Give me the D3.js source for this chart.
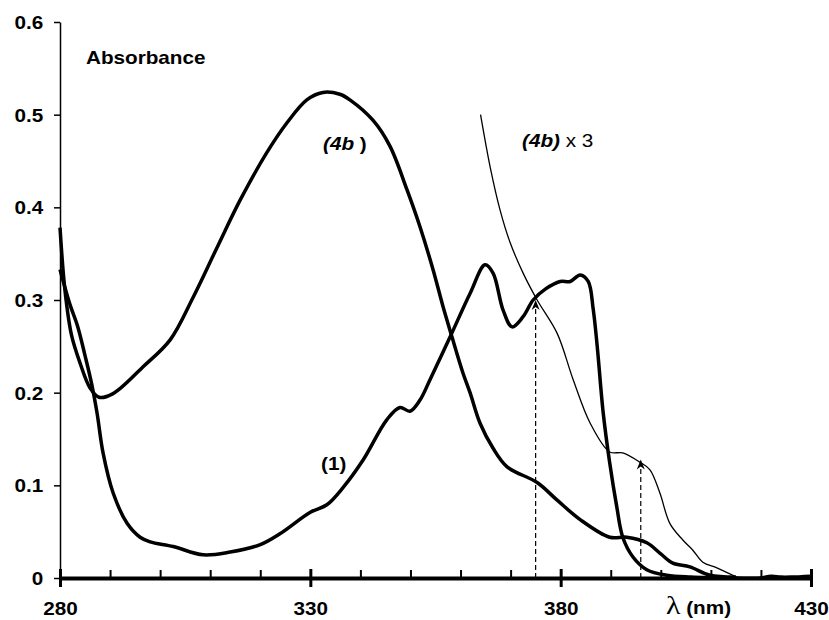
<!DOCTYPE html>
<html>
<head>
<meta charset="utf-8">
<script src="https://cdn.jsdelivr.net/npm/d3@7"></script>
<style>
  body { margin: 0; background: #fff; }
  svg text { font-family: "Liberation Sans", Arial, sans-serif; fill: #000; }
</style>
</head>
<body>
<div id="chart"></div>
<script>
// spectrum of (1)
var wl1 = [280, 282, 283.5, 285, 286.3, 287.4, 288.6, 290.6, 293.4, 296, 298, 302.6, 308.6, 314, 320, 324, 330, 333.3,
           336.6, 340.5, 345.3, 347.9, 349.9, 351.9, 353.9, 357.9, 361.9, 364.9, 366.5, 368.5, 370.3, 372.5, 374.5,
           377, 379.9, 381.9, 383.9, 385.5, 386.5, 387.3, 388.5, 389.8, 391.2, 392.4, 394.4, 397.2, 401.2, 406,
           415, 420, 422, 424, 426, 430];
var abs1 = [0.333, 0.295, 0.272, 0.24, 0.21, 0.178, 0.135, 0.092, 0.059, 0.044, 0.039, 0.034, 0.025, 0.028, 0.036, 0.048, 0.071, 0.079,
            0.098, 0.127, 0.171, 0.184, 0.180, 0.192, 0.214, 0.26, 0.307, 0.338, 0.329, 0.289, 0.271, 0.282, 0.30,
            0.312, 0.32, 0.32, 0.327, 0.32, 0.29, 0.25, 0.178, 0.124, 0.077, 0.044, 0.023, 0.009, 0.003, 0.001,
            0, 0, 0.002, 0.001, 0.001, 0.002];

// spectrum of (4b)
var wl4b = [280, 281, 282.3, 284, 286, 287.8, 290.6, 296.6, 302, 306.6, 311.4, 316, 321.3, 325.3, 329.3, 332.5, 335.9,
            337.9, 342.5, 345.9, 349.3, 351.9, 354.5, 356.5, 358.3, 360.5, 361.9, 363.9, 366.5, 369.3, 375.3, 379.3,
            383.9, 389.8, 393.2, 397.2, 400, 402.4, 405.8, 409.8, 415];
var abs4b = [0.378, 0.31, 0.262, 0.232, 0.205, 0.195, 0.199, 0.228, 0.257, 0.303, 0.357, 0.408, 0.459, 0.491, 0.516, 0.524, 0.522,
             0.516, 0.494, 0.466, 0.419, 0.379, 0.333, 0.293, 0.26, 0.221, 0.2, 0.167, 0.14, 0.12, 0.103, 0.084,
             0.063, 0.044, 0.044, 0.038, 0.026, 0.016, 0.012, 0.003, 0.001];

// (4b) x 3, thin line
var wl4bx3 = [364, 365.9, 367.9, 369.9, 372.5, 375.3, 379.3, 382.5, 385.9, 389.8, 392.4, 395.8, 397.8, 399.8, 401.8,
              404.4, 406.4, 408.4, 411.2, 414.4, 415.5];
var abs4bx3 = [0.5, 0.444, 0.397, 0.362, 0.329, 0.30, 0.264, 0.214, 0.167, 0.136, 0.135, 0.125, 0.117, 0.092, 0.059,
               0.041, 0.03, 0.017, 0.011, 0.003, 0];

// dashed markers
var markNm = [375, 396];
var markAbs = [0.30, 0.128];

var xMajor = [280, 330, 380, 430];
var xMinor = [290, 300, 310, 320, 340, 350, 360, 370, 390, 400, 410, 420];
var yTicks = [0, 0.1, 0.2, 0.3, 0.4, 0.5, 0.6];

var width = 829, height = 620;
var sx = 1.15; // text is a bit wide in the original
var fs = "18px";

var x = d3.scaleLinear().domain([280, 430]).range([60, 811]);
var y = d3.scaleLinear().domain([0, 0.6]).range([578, 22]);

var svg = d3.select("#chart").append("svg")
    .attr("width", width)
    .attr("height", height);

function zip(a, b) { return a.map(function(d, i) { return [d, b[i]]; }); }

var line = d3.line()
    .curve(d3.curveCatmullRom.alpha(0.5))
    .x(function(d) { return x(d[0]); })
    .y(function(d) { return y(d[1]); });

// y axis
var yAxis = svg.append("g")
    .attr("transform", "translate(60,0)")
    .call(d3.axisLeft(y).tickValues(yTicks).tickSize(6).tickSizeOuter(0)
        .tickFormat(function(d) { return d === 0 ? "0" : d3.format(".1f")(d); }));
yAxis.select(".domain").attr("stroke-width", 1.5);
yAxis.selectAll(".tick line").attr("stroke-width", 1.5);
yAxis.selectAll(".tick text")
    .attr("x", -14.5)
    .attr("dy", "0.36em")
    .attr("transform", "scale(" + sx + ",1)")
    .style("font-size", fs).style("font-weight", "bold").style("font-family", "Liberation Sans, Arial, sans-serif");

// curves
svg.append("path").datum(zip(wl4bx3, abs4bx3))
    .attr("d", line).attr("fill", "none").attr("stroke", "#000").attr("stroke-width", 1.3);
svg.append("path").datum(zip(wl1, abs1))
    .attr("d", line).attr("fill", "none").attr("stroke", "#000").attr("stroke-width", 3.5).attr("stroke-linejoin", "round");
svg.append("path").datum(zip(wl4b, abs4b))
    .attr("d", line).attr("fill", "none").attr("stroke", "#000").attr("stroke-width", 3.5).attr("stroke-linejoin", "round");

// dashed lines with arrowheads
markNm.forEach(function(n, i) {
  svg.append("line")
      .attr("x1", x(n)).attr("x2", x(n))
      .attr("y1", y(0)).attr("y2", y(markAbs[i]) + 4)
      .attr("stroke", "#000").attr("stroke-width", 1.2).attr("stroke-dasharray", "5,3");
  var tx = x(n), ty = y(markAbs[i]);
  svg.append("path")
      .attr("d", "M" + tx + "," + ty + "L" + (tx - 4) + "," + (ty + 10) + "L" + tx + "," + (ty + 7) + "L" + (tx + 4) + "," + (ty + 10) + "Z")
      .attr("fill", "#000");
});

// x axis: major ticks cross the line, minor ticks point up
var xMinorAxis = svg.append("g")
    .attr("transform", "translate(0," + y(0) + ")")
    .call(d3.axisTop(x).tickValues(xMinor).tickSize(8).tickSizeOuter(0).tickFormat(""));
xMinorAxis.select(".domain").remove();
xMinorAxis.selectAll(".tick line").attr("stroke-width", 2);

var xAxis = svg.append("g")
    .attr("transform", "translate(0," + y(0) + ")")
    .call(d3.axisBottom(x).tickValues(xMajor).tickSize(9).tickSizeOuter(0));
xAxis.select(".domain").attr("stroke-width", 4);
xAxis.selectAll(".tick line").attr("y1", -9).attr("stroke-width", 3);
xAxis.selectAll(".tick text")
    .attr("y", 37).attr("dy", 0)
    .attr("transform", "scale(" + sx + ",1)")
    .style("font-size", fs).style("font-weight", "bold").style("font-family", "Liberation Sans, Arial, sans-serif");

// labels
function label(px, py, parts) {
  var t = svg.append("text")
      .attr("transform", "translate(" + px + "," + py + ") scale(" + sx + ",1)")
      .style("font-size", fs);
  parts.forEach(function(p) {
    var s = t.append("tspan").text(p.t);
    if (p.w) s.style("font-weight", p.w);
    if (p.i) s.style("font-style", "italic");
    if (p.f) s.style("font-family", p.f);
    if (p.s) s.style("font-size", p.s);
  });
  return t;
}

label(86, 64, [{t: "Absorbance", w: "bold"}]);
label(323, 150, [{t: "(4b", w: "bold", i: 1}, {t: " )", w: "bold"}]);
label(522, 147, [{t: "(4b)", w: "bold", i: 1}, {t: " x 3"}]);
label(321, 470, [{t: "(1)", w: "bold"}]);
label(666, 614, [{t: "λ", f: "Liberation Serif, serif", s: "26px"}, {t: " (nm)", w: "bold"}]);
</script>
</body>
</html>
